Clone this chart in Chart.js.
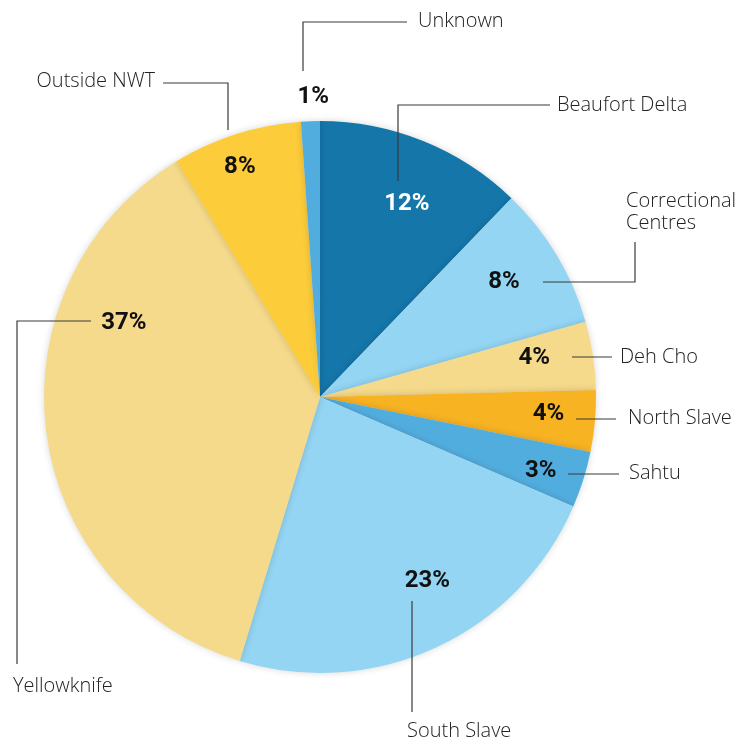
<!DOCTYPE html>
<html>
<head>
<meta charset="utf-8">
<style>
  html, body { margin: 0; padding: 0; background: #fff; }
  canvas { display: block; }
</style>
<script src="https://cdn.jsdelivr.net/npm/chart.js@4"></script>
</head>
<body>
<canvas id="pie" width="752" height="738"></canvas>
<script>
// regions, clockwise from 12 o'clock
const regions = ['Beaufort Delta', 'Correctional Centres', 'Deh Cho', 'North Slave', 'Sahtu',
   'South Slave', 'Yellowknife', 'Outside NWT', 'Unknown'];
const shares = [12.2, 8.4, 4.0, 3.6, 3.3, 23.2, 36.6, 7.6, 1.1];
const pctText = ['12%', '8%', '4%', '4%', '3%', '23%', '37%', '8%', '1%'];
const colors = ['#1576aa', '#93d5f3', '#f5da8b', '#f8b323', '#52addf',
   '#93d5f3', '#f5da8b', '#fccc3a', '#52addf'];

// where the % text sits: fraction of radius, and degrees off the slice middle
const pctRadius = [0.775, 0.79, 0.79, 0.83, 0.84, 0.765, 0.763, 0.89, 1.095];
const pctAngle = [2, -1.5, -2.2, -1.3, 0.4, -5.7, 28.6, -1.4, 0.7];
const pctColor = ['#fff', '#111', '#111', '#111', '#111', '#111', '#111', '#111', '#111'];

// leader lines and name labels (annotation layout, px)
const leaders = [
   [[398, 181], [398, 105], [550, 105]],
   [[543, 282], [635, 282], [635, 242]],
   [[572, 357], [612, 357]],
   [[576, 419], [616, 419]],
   [[568, 474], [619, 474]],
   [[412, 601], [412, 712]],
   [[91, 321], [17, 321], [17, 664]],
   [[228, 130], [228, 83], [163, 83]],
   [[303, 71], [303, 22], [407, 22]]
];
const names = [
   { x: 557, y: 111, align: 'left', lines: ['Beaufort Delta'] },
   { x: 626, y: 207, align: 'left', lines: ['Correctional', 'Centres'] },
   { x: 620, y: 363, align: 'left', lines: ['Deh Cho'] },
   { x: 628, y: 424, align: 'left', lines: ['North Slave'] },
   { x: 629, y: 479, align: 'left', lines: ['Sahtu'] },
   { x: 407, y: 737, align: 'left', lines: ['South Slave'] },
   { x: 13, y: 692, align: 'left', lines: ['Yellowknife'] },
   { x: 155, y: 87, align: 'right', lines: ['Outside NWT'] },
   { x: 418, y: 27, align: 'left', lines: ['Unknown'] }
];

const shadow = {
   id: 'shadow',
   beforeDatasetsDraw(chart) {
      let ctx = chart.ctx;
      ctx.save();
      ctx.shadowColor = 'rgba(0,0,0,0.16)';
      ctx.shadowBlur = 7;
   },
   afterDatasetsDraw(chart) {
      chart.ctx.restore();
   }
};

const labels = {
   id: 'labels',
   afterDraw(chart) {
      let ctx = chart.ctx;
      let arcs = chart.getDatasetMeta(0).data;
      ctx.save();
      // leader lines
      ctx.strokeStyle = '#3a3a3a';
      ctx.lineWidth = 1.2;
      leaders.forEach(pts => {
         ctx.beginPath();
         pts.forEach((p, i) => i ? ctx.lineTo(p[0], p[1]) : ctx.moveTo(p[0], p[1]));
         ctx.stroke();
      });
      // names
      ctx.fillStyle = '#222';
      ctx.font = '300 20px "Open Sans"';
      ctx.textBaseline = 'alphabetic';
      names.forEach(n => {
         ctx.textAlign = n.align;
         n.lines.forEach((t, i) => ctx.fillText(t, n.x, n.y + i * 22));
      });
      // percentages
      ctx.font = 'bold 24px Roboto';
      ctx.textAlign = 'center';
      arcs.forEach((arc, i) => {
         let p = arc.getProps(['x', 'y', 'startAngle', 'endAngle', 'outerRadius']);
         let a = (p.startAngle + p.endAngle) / 2 + pctAngle[i] * Math.PI / 180;
         let r = p.outerRadius * pctRadius[i];
         ctx.fillStyle = pctColor[i];
         ctx.fillText(pctText[i], p.x + Math.cos(a) * r, p.y + Math.sin(a) * r + 8.5);
      });
      ctx.restore();
   }
};

new Chart(document.getElementById('pie'), {
   type: 'pie',
   data: {
      labels: regions,
      datasets: [{
         data: shares,
         backgroundColor: colors,
         borderWidth: 0
      }]
   },
   options: {
      responsive: false,
      animation: false,
      events: [],
      layout: { padding: { left: 44, right: 156, top: 121, bottom: 65 } },
      plugins: {
         legend: { display: false },
         tooltip: { enabled: false }
      }
   },
   plugins: [shadow, labels]
});
</script>
</body>
</html>
